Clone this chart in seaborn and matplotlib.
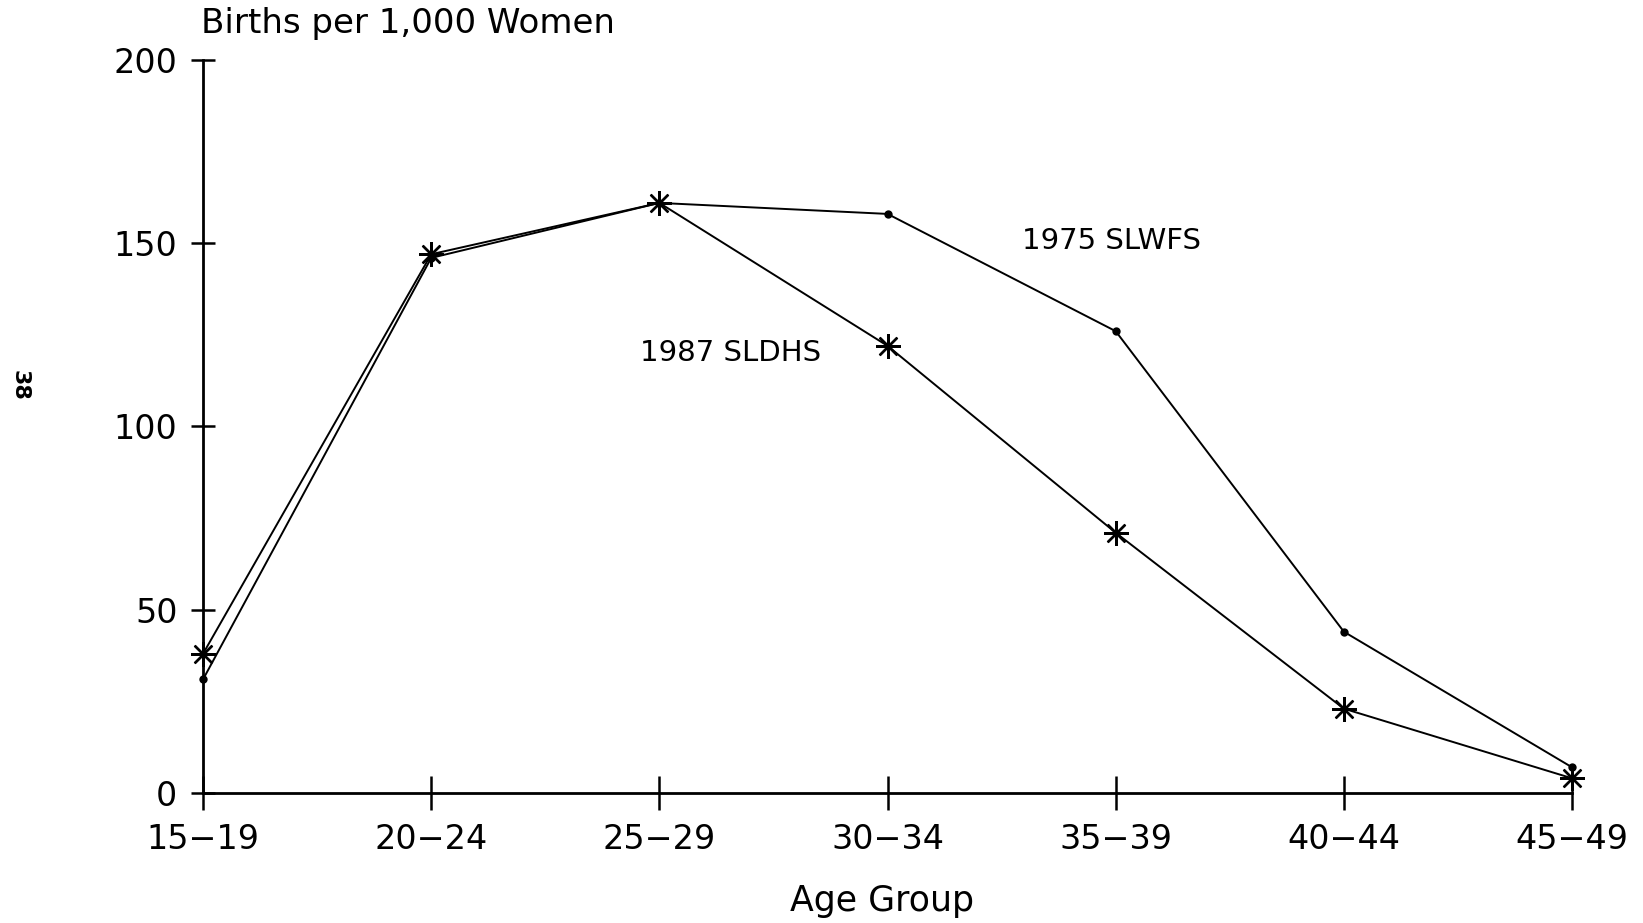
import pandas as pd
import matplotlib.pyplot as plt
import seaborn as sns

age_groups = ['15\u221219', '20\u221224', '25\u221229', '30\u221234', '35\u221239', '40\u221244', '45\u221249']
slwfs_1975 = [31, 146, 161, 158, 126, 44, 7]
sldhs_1987 = [38, 147, 161, 122, 71, 23, 4]

df = pd.DataFrame({
    'pos': range(len(age_groups)),
    'age': age_groups,
    '1975 SLWFS': slwfs_1975,
    '1987 SLDHS': sldhs_1987,
})

sns.set_style('white')
plt.rcParams['font.family'] = ['DejaVu Sans']
plt.rcParams['text.color'] = 'black'

fig = plt.figure(figsize=(16.43, 9.23), dpi=100)
ax = fig.add_axes([0.1236, 0.1409, 0.8332, 0.7941])

# 1975 survey: small dots
sns.lineplot(data=df, x='pos', y='1975 SLWFS', ax=ax, color='black', linewidth=1.4,
             marker='o', markersize=6, markeredgewidth=0, markeredgecolor='black',
             clip_on=False)
# 1987 survey: 8-spoke asterisks
sns.lineplot(data=df, x='pos', y='1987 SLDHS', ax=ax, color='black', linewidth=1.4,
             marker=(8, 2, 0), markersize=18, markeredgewidth=1.7, markeredgecolor='black',
             clip_on=False)

ax.set_xlim(0, len(age_groups) - 1)
ax.set_ylim(0, 200)
ax.set_xticks(df['pos'])
ax.set_xticklabels(age_groups)
ax.set_yticks([0, 50, 100, 150, 200])
ax.set_xlabel('')
ax.set_ylabel('')

sns.despine(ax=ax)
for s in ['left', 'bottom']:
    ax.spines[s].set_linewidth(2.0)
    ax.spines[s].set_color('black')

ax.tick_params(axis='x', bottom=True, direction='inout', length=25, width=1.8,
               labelsize=24, pad=9, colors='black')
ax.tick_params(axis='y', left=True, direction='inout', length=17, width=1.8,
               labelsize=24, pad=10, colors='black')

ax.text(3.98, 150.5, '1975 SLWFS', fontsize=21, ha='center', va='center', color='black')
ax.text(2.31, 120, '1987 SLDHS', fontsize=21, ha='center', va='center', color='black')

fig.text(0.1225, 0.974, 'Births per 1,000 Women', fontsize=24.5, ha='left', va='center')
fig.text(0.537, 0.024, 'Age Group', fontsize=25, ha='center', va='center')
fig.text(0.012, 0.582, '38', fontsize=16, fontweight='bold', rotation=-90, ha='center', va='center')

fig.savefig('out.png', dpi=100, facecolor='white')
